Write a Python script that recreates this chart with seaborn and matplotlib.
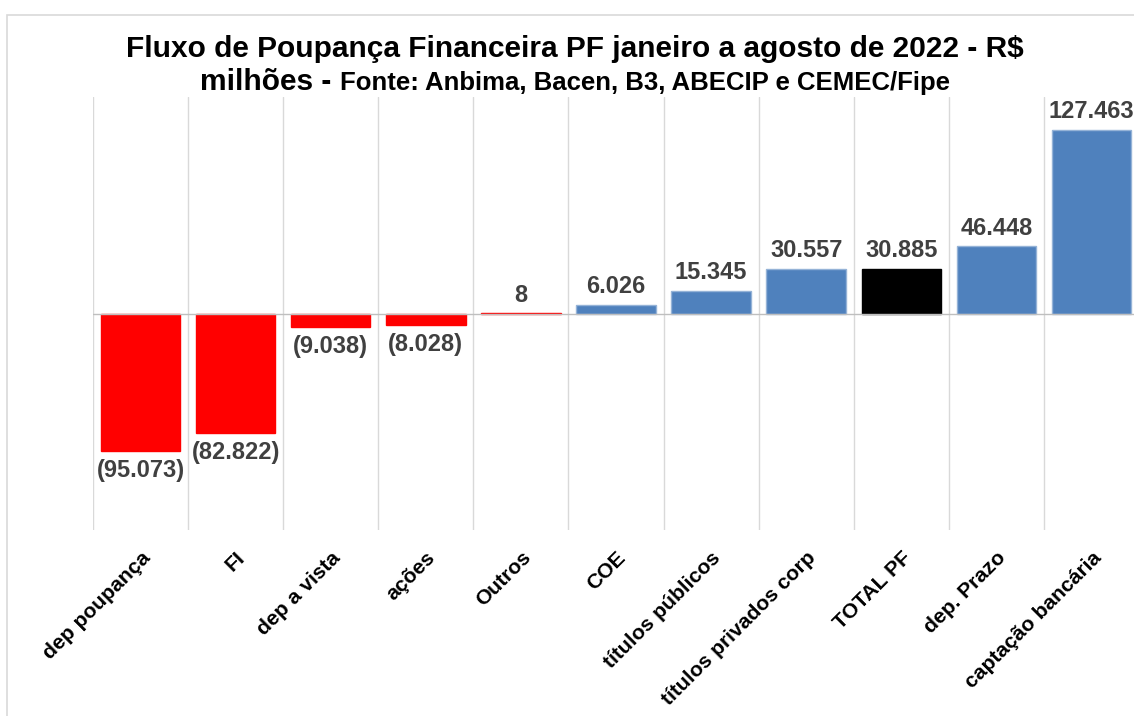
import matplotlib
matplotlib.use("Agg")
import matplotlib.pyplot as plt
import seaborn as sns
import pandas as pd
from matplotlib.patches import Rectangle

categories = ["dep poupança", "FI", "dep a vista", "ações", "Outros", "COE",
              "títulos públicos", "títulos privados corp", "TOTAL PF",
              "dep. Prazo", "captação bancária"]
values = [-95073, -82822, -9038, -8028, 8, 6026, 15345, 30557, 30885, 46448, 127463]
bar_colors = ["#FF0000", "#FF0000", "#FF0000", "#FF0000", "#FF0000", "#4F81BD",
              "#4F81BD", "#4F81BD", "#000000", "#4F81BD", "#4F81BD"]
title_line1 = "Fluxo de Poupança Financeira PF janeiro a agosto de 2022 - R$"
title_line2a = "milhões - "
title_line2b = "Fonte: Anbima, Bacen, B3, ABECIP e CEMEC/Fipe"

sns.set_theme(style="white")
plt.rcParams["font.family"] = ["Liberation Sans", "DejaVu Sans"]

df = pd.DataFrame({"cat": categories, "val": values})

fig = plt.figure(figsize=(11.34, 7.16), dpi=100)
ax = fig.add_axes([93 / 1134, 1 - 530 / 716, 1046 / 1134, (530 - 97) / 716])

sns.barplot(data=df, x="cat", y="val", hue="cat", palette=bar_colors,
            legend=False, width=0.835, saturation=1, ax=ax)

edge_map = {"#FF0000": "#FF0000", "#4F81BD": "#95B3D7", "#000000": "#000000"}
for p, c in zip(ax.patches, bar_colors):
    p.set_edgecolor(edge_map[c])
    p.set_linewidth(1.0)

ax.set_ylim(-150000, 150000)
ax.set_xlim(-0.5, len(categories) - 0.5)
ax.set_xlabel("")
ax.set_ylabel("")
ax.set_yticks([])
for s in ax.spines.values():
    s.set_visible(False)

for i in range(len(categories) + 1):
    ax.axvline(i - 0.5, color="#D9D9D9", lw=1.0, zorder=0)
ax.axhline(0, color="#BFBFBF", lw=1.0, zorder=3)

ax.set_xticks(range(len(categories)))
ax.set_xticklabels(categories, rotation=45, ha="right", rotation_mode="anchor",
                   fontsize=15.2, fontweight="bold", color="black")
ax.tick_params(axis="x", length=0, pad=13)


def fmt(v):
    s = f"{abs(v):,}".replace(",", ".")
    return f"({s})" if v < 0 else s


for i, v in enumerate(values):
    if v >= 0:
        ax.annotate(fmt(v), xy=(i, v), xytext=(0, 5), textcoords="offset points",
                    ha="center", va="bottom", fontsize=17, fontweight="bold",
                    color="#404040", annotation_clip=False)
    else:
        ax.annotate(fmt(v), xy=(i, v), xytext=(0, -6), textcoords="offset points",
                    ha="center", va="top", fontsize=17, fontweight="bold",
                    color="#404040", annotation_clip=False)

# title
fig.text(575 / 1134, 1 - 57 / 716, title_line1, ha="center", va="baseline",
         fontsize=21.5, fontweight="bold", color="black")
t_a = fig.text(0, 1 - 90 / 716, title_line2a, ha="left", va="baseline",
               fontsize=21.5, fontweight="bold", color="black")
t_b = fig.text(0, 1 - 90 / 716, title_line2b, ha="left", va="baseline",
               fontsize=18.5, fontweight="bold", color="black")
fig.canvas.draw()
r = fig.canvas.get_renderer()
wa = t_a.get_window_extent(r).width
wb = t_b.get_window_extent(r).width
start = 575 - (wa + wb) / 2
t_a.set_x(start / 1134)
t_b.set_x((start + wa) / 1134)

fig.patches.append(Rectangle((7 / 1134, -0.1), 1.2, 1 - 15 / 716 + 0.1,
                             transform=fig.transFigure, fill=False,
                             edgecolor="#D9D9D9", lw=1.2, zorder=-1))

fig.savefig("out.png", dpi=100)
